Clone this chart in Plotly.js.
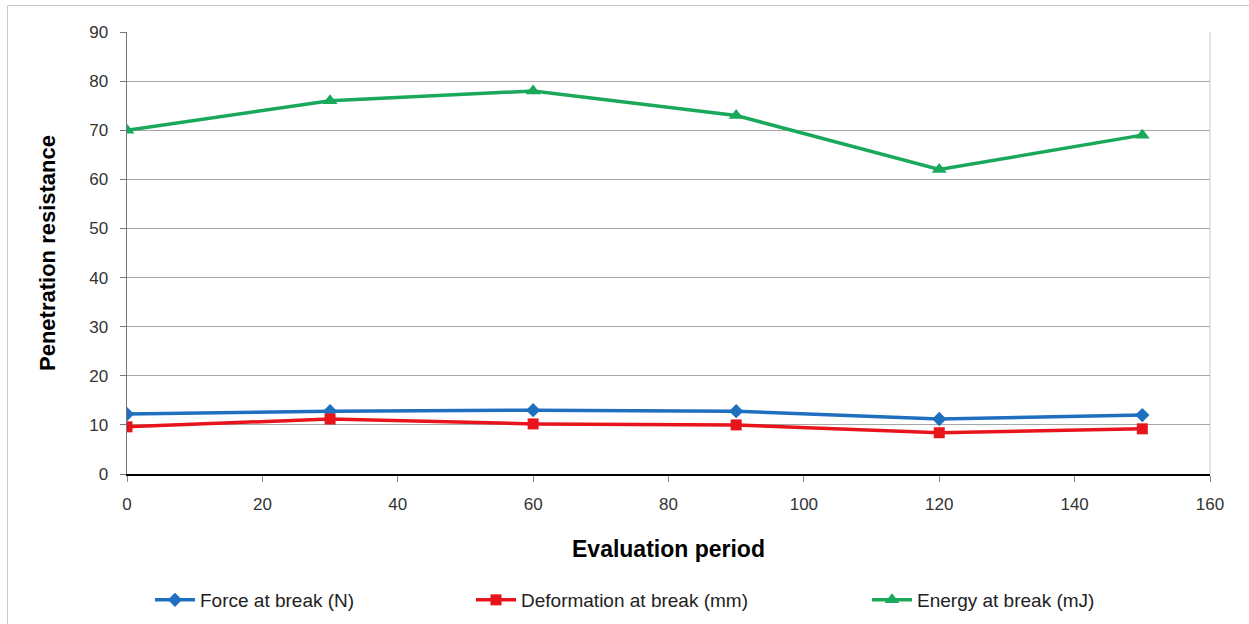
<!DOCTYPE html>
<html>
<head>
<meta charset="utf-8">
<script src="https://cdn.plot.ly/plotly-3.0.1.min.js"></script>
<style>
  html, body { margin: 0; padding: 0; background: #fff; }
  #chart { width: 1249px; height: 624px; }
</style>
</head>
<body>
<div id="chart"></div>
<script>
// Data
const periods = [0, 30, 60, 90, 120, 150];
const forceAtBreak = [12.2, 12.8, 13.0, 12.8, 11.2, 12.0];
const deformationAtBreak = [9.6, 11.2, 10.2, 10.0, 8.4, 9.2];
const energyAtBreak = [70, 76, 78, 73, 62, 69];
const seriesNames = ["Force at break (N)", "Deformation at break (mm)", "Energy at break (mJ)"];
const xTitle = "Evaluation period";
const yTitle = "Penetration resistance";

const FONT = "Liberation Sans, Arial, sans-serif";

const traces = [
  {
    x: periods, y: forceAtBreak, name: seriesNames[0], type: "scatter", mode: "lines+markers",
    line: { color: "#1f6fbf", width: 3.5 },
    marker: { symbol: "diamond", size: 11, color: "#1f6fbf" },
    legend: "legend"
  },
  {
    x: periods, y: deformationAtBreak, name: seriesNames[1], type: "scatter", mode: "lines+markers",
    line: { color: "#e8141c", width: 3.5 },
    marker: { symbol: "square", size: 11, color: "#e8141c" },
    legend: "legend2"
  },
  {
    x: periods, y: energyAtBreak, name: seriesNames[2], type: "scatter", mode: "lines+markers",
    line: { color: "#1aa85a", width: 3.5 },
    marker: { symbol: "triangle-up", size: 13, color: "#1aa85a" },
    legend: "legend3"
  }
];

const legendBase = {
  orientation: "h", yref: "container", xref: "container",
  yanchor: "middle", y: 1 - 600 / 624, xanchor: "left",
  font: { family: FONT, size: 19, color: "#222" },
  itemwidth: 40,
  bgcolor: "rgba(0,0,0,0)", borderwidth: 0
};

const layout = {
  width: 1249, height: 624,
  margin: { l: 127, r: 39, t: 32, b: 150, autoexpand: false },
  paper_bgcolor: "#fff", plot_bgcolor: "#fff",
  font: { family: FONT, color: "#333" },
  showlegend: true,
  xaxis: {
    range: [0, 160], dtick: 20, tick0: 0,
    showgrid: false, zeroline: false,
    showline: true, linecolor: "#000", linewidth: 1.5,
    ticks: "outside", ticklen: 6, tickcolor: "#888", tickwidth: 1,
    ticklabelstandoff: 8,
    tickfont: { family: FONT, size: 17, color: "#333" },
    title: { text: xTitle, font: { family: FONT, size: 23, color: "#000", weight: "bold" }, standoff: 28 }
  },
  yaxis: {
    range: [0, 90], dtick: 10, tick0: 0,
    showgrid: true, gridcolor: "#a6a6a6", gridwidth: 1,
    zeroline: false,
    showline: true, linecolor: "#777", linewidth: 1.5,
    ticks: "outside", ticklen: 6, tickcolor: "#777", tickwidth: 1,
    ticklabelstandoff: 8,
    tickfont: { family: FONT, size: 17, color: "#333" },
    title: { text: yTitle, font: { family: FONT, size: 22, color: "#000", weight: "bold" }, standoff: 27 }
  },
  legend: Object.assign({}, legendBase, { x: 150 / 1249 }),
  legend2: Object.assign({}, legendBase, { x: 471 / 1249 }),
  legend3: Object.assign({}, legendBase, { x: 867 / 1249 }),
  shapes: [
    // right edge of the plot area
    { type: "line", xref: "paper", yref: "paper", x0: 1, x1: 1, y0: 0, y1: 1,
      line: { color: "#c8c8c8", width: 1 } },
    // outer chart border (left and top edges visible)
    { type: "rect", xref: "paper", yref: "paper",
      x0: (7.5 - 127) / 1083, x1: (1262 - 127) / 1083,
      y0: (474 - 640) / 442, y1: (474 - 5.5) / 442,
      line: { color: "#c8c8c8", width: 1 }, fillcolor: "rgba(0,0,0,0)", layer: "below" }
  ]
};

Plotly.newPlot("chart", traces, layout, { displayModeBar: false, staticPlot: true });
</script>
</body>
</html>
